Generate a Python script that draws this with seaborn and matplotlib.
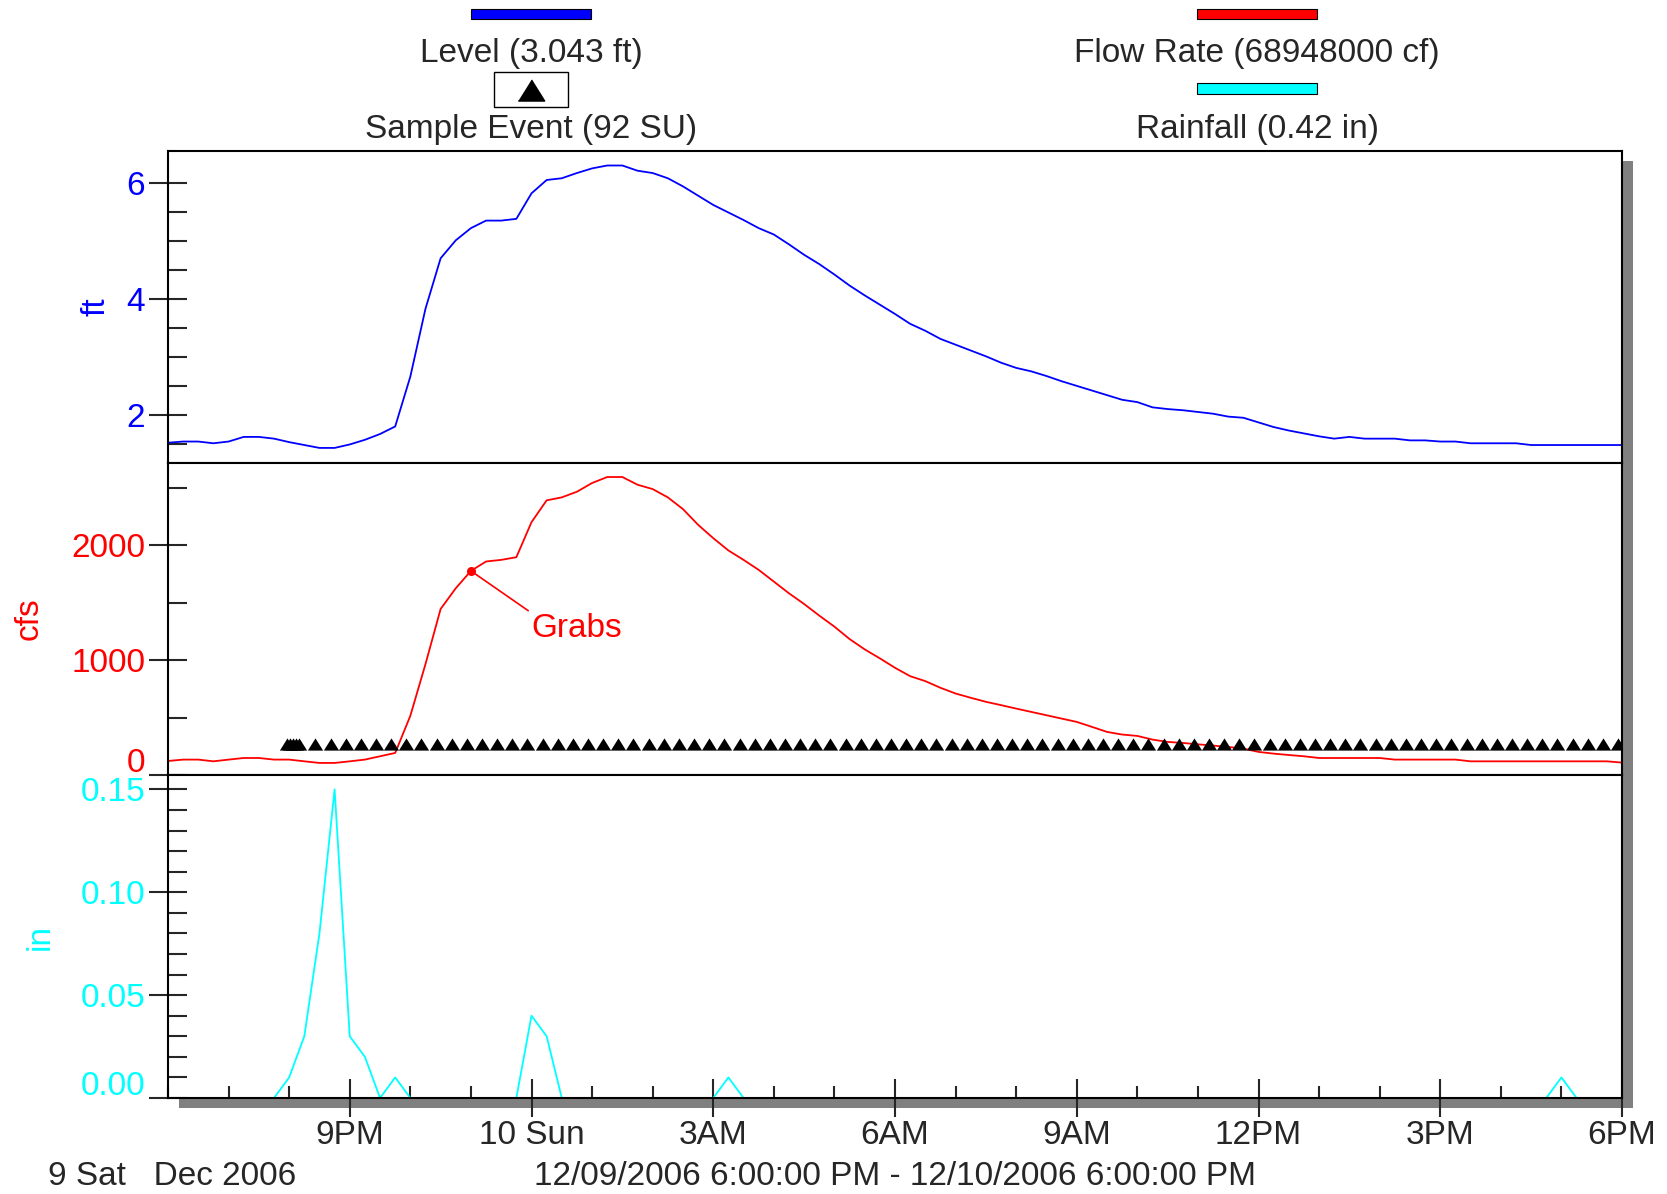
import pandas as pd
import matplotlib
matplotlib.use("Agg")
import matplotlib.pyplot as plt
import matplotlib.dates as mdates
import matplotlib.transforms as mtransforms
from matplotlib.patches import Rectangle
from matplotlib.lines import Line2D
from matplotlib.ticker import MultipleLocator, FixedLocator, FormatStrFormatter
import seaborn as sns

# 15 minute readings, 6PM Sat Dec 9 to 6PM Sun Dec 10 2006
times = pd.date_range("2006-12-09 18:00", "2006-12-10 18:00", freq="15min")

level_ft = [1.52, 1.54, 1.54, 1.51, 1.54, 1.62, 1.62, 1.59, 1.53, 1.48, 1.43, 1.43,
            1.49, 1.57, 1.67, 1.80, 2.66, 3.83, 4.70, 5.01, 5.22, 5.35, 5.35, 5.38,
            5.82, 6.05, 6.08, 6.17, 6.25, 6.30, 6.30, 6.21, 6.17,
            6.08, 5.94, 5.78, 5.62, 5.49, 5.36, 5.22, 5.11, 4.94, 4.76, 4.60, 4.42,
            4.23, 4.06, 3.90, 3.74, 3.57, 3.45, 3.31, 3.21, 3.11, 3.01, 2.90, 2.81,
            2.75, 2.67, 2.58, 2.50, 2.42, 2.34, 2.26, 2.22,
            2.13, 2.10, 2.08, 2.05, 2.02, 1.97, 1.95, 1.87, 1.79, 1.73, 1.68, 1.63,
            1.59, 1.62, 1.59, 1.59, 1.59, 1.56, 1.56, 1.54, 1.54, 1.51, 1.51, 1.51,
            1.51, 1.48, 1.48, 1.48, 1.48, 1.48, 1.48, 1.48]

flow_cfs = [122, 134, 134, 119, 134, 148, 148, 134, 134, 119, 105, 105,
            119, 134, 163, 192, 515, 965, 1445, 1625, 1776, 1858, 1872, 1895,
            2200, 2390, 2416, 2465, 2541, 2593, 2593, 2526, 2488,
            2416, 2314, 2177, 2061, 1954, 1872, 1785, 1683, 1581, 1488, 1387, 1291,
            1183, 1093, 1015, 933, 860, 817, 759, 709, 672, 637, 608, 578,
            549, 520, 491, 462, 419, 375, 352, 340,
            308, 288, 279, 267, 256, 244, 230, 201, 186, 174, 163, 148,
            148, 148, 148, 148, 134, 134, 134, 134, 134, 119, 119, 119,
            119, 119, 119, 119, 119, 119, 119, 108]

rain_in = [0, 0, 0, 0,            # 6PM
           0, 0, 0, 0,            # 7PM
           0.01, 0.03, 0.08, 0.15,  # 8PM
           0.03, 0.02, 0, 0.01,   # 9PM
           0, 0, 0, 0,            # 10PM
           0, 0, 0, 0,            # 11PM
           0.04, 0.03, 0, 0,      # 12AM
           0, 0, 0, 0,            # 1AM
           0, 0, 0, 0,            # 2AM
           0, 0.01, 0, 0,         # 3AM
           0, 0, 0, 0, 0, 0, 0, 0, 0, 0, 0, 0, 0, 0, 0, 0,
           0, 0, 0, 0, 0, 0, 0, 0, 0, 0, 0, 0, 0, 0, 0, 0,
           0, 0, 0, 0, 0, 0, 0, 0, 0, 0, 0, 0, 0, 0, 0, 0,
           0, 0, 0, 0,            # 4PM
           0.01, 0, 0, 0,         # 5PM
           0]                     # 6PM

# sampler: a burst around 8PM, then every 15 minutes
sample_burst = pd.to_datetime(["2006-12-09 19:58", "2006-12-09 20:01", "2006-12-09 20:04",
                               "2006-12-09 20:07", "2006-12-09 20:10"])
sample_times = sample_burst.append(pd.date_range("2006-12-09 20:26", "2006-12-10 17:56", freq="15min"))
grab_time = pd.Timestamp("2006-12-09 23:00")

x_ticks = pd.to_datetime(["2006-12-09 21:00", "2006-12-10 00:00", "2006-12-10 03:00",
                          "2006-12-10 06:00", "2006-12-10 09:00", "2006-12-10 12:00",
                          "2006-12-10 15:00", "2006-12-10 18:00"])
x_labels = ["9PM", "10 Sun", "3AM", "6AM", "9AM", "12PM", "3PM", "6PM"]

BLUE, RED, CYAN = "#0000ff", "#ff0000", "#00ffff"

sns.set_style("ticks")
plt.rcParams["font.family"] = ["Liberation Sans", "DejaVu Sans"]
plt.rcParams["axes.linewidth"] = 1.5

df = pd.DataFrame({"time": times, "level": level_ft, "flow": flow_cfs, "rain": rain_in})
samples = pd.DataFrame({"time": sample_times, "pos": 273})

W, H = 1667, 1194
fig = plt.figure(figsize=(W / 100, H / 100), dpi=100)


def fx(x):
    return x / W


def fy(y):
    return 1 - y / H


L, R = 168, 1622
ax_lvl = fig.add_axes([fx(L), fy(463), (R - L) / W, (463 - 151) / H])
ax_flow = fig.add_axes([fx(L), fy(775), (R - L) / W, (775 - 463) / H])
ax_rain = fig.add_axes([fx(L), fy(1098), (R - L) / W, (1098 - 775) / H])

sns.lineplot(data=df, x="time", y="level", ax=ax_lvl, color=BLUE, linewidth=1.3)
sns.lineplot(data=df, x="time", y="flow", ax=ax_flow, color=RED, linewidth=1.3)
sns.lineplot(data=df, x="time", y="rain", ax=ax_rain, color=CYAN, linewidth=1.3)

tri = [(-1, -0.8), (1, -0.8), (0, 0.8)]
ax_flow.plot(samples["time"], samples["pos"], linestyle="none", marker=tri, ms=11,
             color="black", markeredgewidth=0, zorder=3)

# grab sample marker + callout
grab_flow = df.loc[df["time"] == grab_time, "flow"].iloc[0]
ax_flow.plot([grab_time], [grab_flow], "o", color=RED, ms=5.5, zorder=4)
ax_flow.annotate("Grabs", xy=(mdates.date2num(grab_time), grab_flow),
                 xytext=(mdates.date2num(pd.Timestamp("2006-12-10 00:00")), 1410),
                 color=RED, fontsize=24, ha="left", va="top",
                 arrowprops=dict(arrowstyle="-", color=RED, lw=1.2, shrinkA=0, shrinkB=0,
                                 relpos=(0, 1)))

t0, t1 = pd.Timestamp("2006-12-09 18:00"), pd.Timestamp("2006-12-10 18:00")
for ax in (ax_lvl, ax_flow, ax_rain):
    ax.set_xlim(t0, t1)
    ax.set_xlabel("")
    for s in ax.spines.values():
        s.set_linewidth(1.5)
        s.set_color("black")
    ax.tick_params(axis="y", which="major", direction="inout", length=27, width=1.5,
                   pad=3, labelsize=24)
    ax.tick_params(axis="y", which="minor", direction="in", length=14, width=1.5)

for ax in (ax_lvl, ax_flow):
    ax.tick_params(axis="x", which="both", bottom=False, labelbottom=False)

# level panel
ax_lvl.set_ylim(1.17, 6.55)
ax_lvl.set_yticks([2, 4, 6])
ax_lvl.yaxis.set_minor_locator(FixedLocator([1.5, 2.5, 3, 3.5, 4.5, 5, 5.5]))
ax_lvl.tick_params(axis="y", labelcolor=BLUE)
ax_lvl.set_ylabel("ft", color=BLUE, fontsize=24, labelpad=11)

# flow panel
ax_flow.set_ylim(0, 2715)
ax_flow.set_yticks([0, 1000, 2000])
ax_flow.yaxis.set_minor_locator(MultipleLocator(500))
ax_flow.tick_params(axis="y", labelcolor=RED)
ax_flow.set_ylabel("cfs", color=RED, fontsize=24, labelpad=19)

# rain panel
ax_rain.set_ylim(0, 0.157)
ax_rain.set_yticks([0, 0.05, 0.10, 0.15])
ax_rain.yaxis.set_major_formatter(FormatStrFormatter("%.2f"))
ax_rain.yaxis.set_minor_locator(MultipleLocator(0.01))
ax_rain.tick_params(axis="y", labelcolor=CYAN)
ax_rain.set_ylabel("in", color=CYAN, fontsize=24, labelpad=18)

ax_rain.set_xticks(x_ticks)
ax_rain.set_xticklabels(x_labels)
ax_rain.xaxis.set_minor_locator(mdates.HourLocator())
ax_rain.tick_params(axis="x", which="major", direction="inout", length=27, width=1.5,
                    pad=2, labelsize=24)
ax_rain.tick_params(axis="x", which="minor", direction="in", length=9, width=1.5)

# drop shadow of the plot frame
fig.add_artist(Rectangle((fx(R), fy(1108)), 11 / W, (1108 - 161) / H, facecolor="#808080",
                         edgecolor="none", transform=fig.transFigure, zorder=-1))
fig.add_artist(Rectangle((fx(179), fy(1108)), (R + 11 - 179) / W, 10 / H, facecolor="#808080",
                         edgecolor="none", transform=fig.transFigure, zorder=-1))

# header legend
fig.add_artist(Rectangle((fx(471), fy(19)), 120 / W, 10.5 / H, facecolor=BLUE,
                         edgecolor="black", lw=0.8, transform=fig.transFigure))
fig.add_artist(Rectangle((fx(1197), fy(19)), 120 / W, 10.5 / H, facecolor=RED,
                         edgecolor="black", lw=0.8, transform=fig.transFigure))
fig.add_artist(Rectangle((fx(1197), fy(93.5)), 120 / W, 10.5 / H, facecolor=CYAN,
                         edgecolor="black", lw=0.8, transform=fig.transFigure))
fig.add_artist(Rectangle((fx(494), fy(107)), 74 / W, 35 / H, facecolor="white",
                         edgecolor="black", lw=1.0, transform=fig.transFigure))
fig.add_artist(Line2D([fx(531)], [fy(89.5)], marker=tri, ms=19, color="black",
                      linestyle="none", transform=fig.transFigure))
fig.text(fx(531), fy(62), "Level (3.043 ft)", ha="center", va="baseline", fontsize=24)
fig.text(fx(531), fy(138), "Sample Event (92 SU)", ha="center", va="baseline", fontsize=24)
fig.text(fx(1257), fy(62), "Flow Rate (68948000 cf)", ha="center", va="baseline", fontsize=24)
fig.text(fx(1257), fy(138), "Rainfall (0.42 in)", ha="center", va="baseline", fontsize=24)

fig.text(fx(48), fy(1185), "9 Sat   Dec 2006", ha="left", va="baseline", fontsize=24)
fig.text(fx((L + R) / 2), fy(1185), "12/09/2006 6:00:00 PM - 12/10/2006 6:00:00 PM",
         ha="center", va="baseline", fontsize=24)

# bottom labels of the lower panels sit a little above their tick
fig.canvas.draw()
lift = mtransforms.ScaledTranslation(0, 3 / 100, fig.dpi_scale_trans)
for ax in (ax_flow, ax_rain):
    lab = ax.yaxis.get_major_ticks()[0].label1
    lab.set_va("baseline")
    lab.set_transform(lab.get_transform() + lift)

fig.savefig("out.png", dpi=100)
